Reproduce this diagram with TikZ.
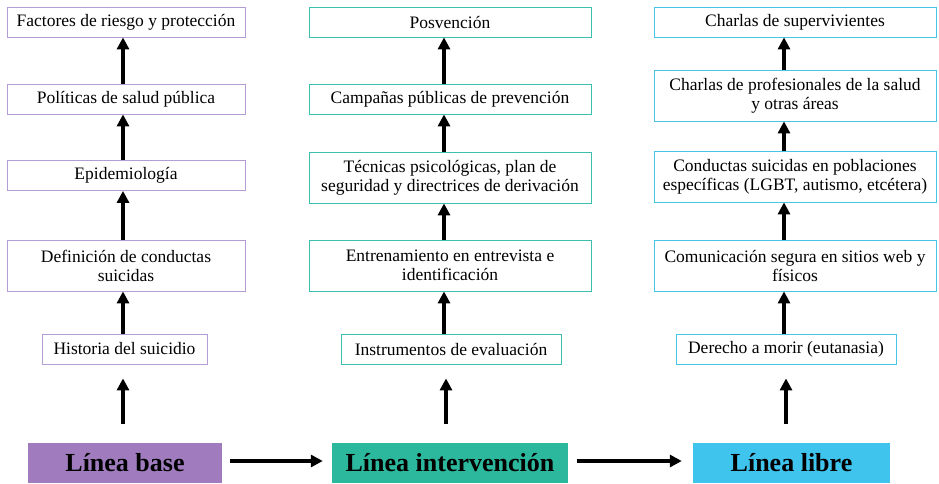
\documentclass[tikz,border=0pt]{standalone}
\usepackage{fontspec}
\setmainfont{Liberation Serif}
\usetikzlibrary{arrows.meta}
\definecolor{purpleedge}{HTML}{B49CD4}
\definecolor{tealedge}{HTML}{3DBFB0}
\definecolor{blueedge}{HTML}{45C6E6}
\definecolor{purplefill}{HTML}{A07CBE}
\definecolor{tealfill}{HTML}{2BB89C}
\definecolor{bluefill}{HTML}{3FC4EE}
\begin{document}
\begin{tikzpicture}[x=1pt,y=-1pt,
    box/.style={draw,line width=0.8pt,fill=white,inner sep=0pt,align=center,
      font=\fontsize{17.5}{19}\selectfont,minimum height=30pt},
    tallbox/.style={box,minimum height=51pt},
    colA/.style={draw=purpleedge,minimum width=238pt},
    colB/.style={draw=tealedge,minimum width=282pt},
    colC/.style={draw=blueedge,minimum width=282pt},
    lane/.style={inner sep=0pt,minimum height=40pt,
      font=\fontsize{26}{28}\selectfont\bfseries},
    up/.style={-{Triangle[width=12pt,length=12pt]},line width=3.2pt}]
  \useasboundingbox (0,0) rectangle (939,483);
  \draw
    (126,22) node[box,colA] (a1) {Factores de riesgo y protección}
    (126,99) node[box,colA] (a2) {Políticas de salud pública}
    (126,175.5) node[box,colA] (a3) {Epidemiología}
    (126,265.5) node[tallbox,colA] (a4) {Definición de conductas\\suicidas}
    (124.5,349) node[box,colA,minimum width=165pt] (a5) {Historia del suicidio}
    (450,22) node[box,colB] (b1) {Posvención}
    (450,99) node[box,colB] (b2) {Campañas públicas de prevención}
    (450,177.5) node[tallbox,colB] (b3) {Técnicas psicológicas, plan de\\seguridad y directrices de derivación}
    (450,265.5) node[tallbox,colB] (b4) {Entrenamiento en entrevista e\\identificación}
    (451,349) node[box,colB,minimum width=220pt] (b5) {Instrumentos de evaluación}
    (795,22) node[box,colC] (c1) {Charlas de supervivientes}
    (795,95.5) node[tallbox,colC] (c2) {Charlas de profesionales de la salud\\y otras áreas}
    (795,176.5) node[tallbox,colC] (c3) {Conductas suicidas en poblaciones\\específicas (LGBT, autismo, etcétera)}
    (795,265.5) node[tallbox,colC] (c4) {Comunicación segura en sitios web y\\físicos}
    (786,349) node[box,colC,minimum width=220pt] (c5) {Derecho a morir (eutanasia)}
    (125,463) node[lane,fill=purplefill,minimum width=194pt] (base) {Línea base}
    (450,463) node[lane,fill=tealfill,minimum width=236pt] (inter) {Línea intervención}
    (791.5,463) node[lane,fill=bluefill,minimum width=197pt] (libre) {Línea libre};
  \begin{scope}[up]
    \draw ([xshift=-3pt]a2.north) to ([xshift=-3pt]a1.south);
    \draw ([xshift=-3pt]a3.north) to ([xshift=-3pt]a2.south);
    \draw ([xshift=-3pt]a4.north) to ([xshift=-3pt]a3.south);
    \draw ([xshift=-3pt]a4.south |- a5.north) to ([xshift=-3pt]a4.south);
    \draw[shorten <=19pt,shorten >=14pt] ([xshift=-3pt]a4.south |- base.north) to ([xshift=-3pt]a4.south |- a5.south);
    \draw ([xshift=-6pt]b2.north) to ([xshift=-6pt]b1.south);
    \draw ([xshift=-6pt]b3.north) to ([xshift=-6pt]b2.south);
    \draw ([xshift=-6pt]b4.north) to ([xshift=-6pt]b3.south);
    \draw ([xshift=-6pt]b4.south |- b5.north) to ([xshift=-6pt]b4.south);
    \draw[shorten <=19pt,shorten >=14pt] ([xshift=-4pt]b4.south |- inter.north) to ([xshift=-4pt]b4.south |- b5.south);
    \draw ([xshift=-11pt]c2.north) to ([xshift=-11pt]c1.south);
    \draw ([xshift=-11pt]c3.north) to ([xshift=-11pt]c2.south);
    \draw ([xshift=-11pt]c4.north) to ([xshift=-11pt]c3.south);
    \draw ([xshift=-11pt]c4.south |- c5.north) to ([xshift=-11pt]c4.south);
    \draw[shorten <=19pt,shorten >=14pt] ([xshift=-9pt]c4.south |- libre.north) to ([xshift=-9pt]c4.south |- c5.south);
    \draw[shorten <=8pt,shorten >=9pt] ([yshift=2pt]base.east) to ([yshift=2pt]inter.west);
    \draw[shorten <=9pt,shorten >=11pt] ([yshift=2pt]inter.east) to ([yshift=2pt]libre.west);
  \end{scope}
\end{tikzpicture}
\end{document}
